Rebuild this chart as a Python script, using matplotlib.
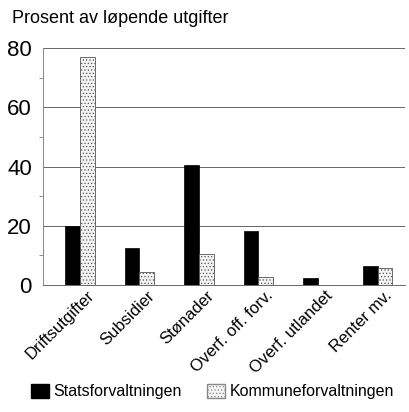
import numpy as np
import matplotlib.pyplot as plt
from matplotlib.patches import Patch

plt.rcParams['font.family'] = ['Liberation Sans', 'DejaVu Sans']
plt.rcParams['hatch.color'] = '#999999'
plt.rcParams['hatch.linewidth'] = 0.5

categories = ["Driftsutgifter", "Subsidier", "Stønader", "Overf. off. forv.",
              "Overf. utlandet", "Renter mv."]
stat = [19.8, 12.5, 40.4, 18.1, 2.4, 6.5]
kommune = [76.9, 4.3, 10.5, 2.6, 0.1, 5.9]
series_names = ["Statsforvaltningen", "Kommuneforvaltningen"]

fig = plt.figure(figsize=(4.09, 4.12), dpi=100)
ax = fig.add_axes([0.105, 0.308, 0.885, 0.5755])

x = np.arange(len(categories))
w = 0.25
ax.bar(x - w / 2, stat, w, color='black', edgecolor='black', linewidth=0.5, zorder=3)
ax.bar(x + w / 2, kommune, w, color='#f4f4f4', edgecolor='#555555', linewidth=0.6,
       hatch='.....', zorder=3)

ax.set_xlim(-0.62, 5.46)
ax.set_ylim(0, 80)
ax.set_yticks([0, 20, 40, 60, 80])
ax.set_yticks([10, 30, 50, 70], minor=True)
ax.yaxis.grid(True, color='#666666', linewidth=0.7, zorder=0)
ax.tick_params(axis='y', which='major', length=0, labelsize=16, pad=8)
ax.tick_params(axis='y', which='minor', length=3, width=0.6, color='#777777')
ax.tick_params(axis='x', length=0, pad=2)
ax.set_xticks(x + 0.12)
ax.set_xticklabels(categories, rotation=45, ha='right', rotation_mode='anchor', fontsize=12)

for s in ['top', 'right']:
    ax.spines[s].set_visible(False)
ax.spines['left'].set_color('#888888')
ax.spines['left'].set_linewidth(0.7)
ax.spines['bottom'].set_color('#666666')
ax.spines['bottom'].set_linewidth(0.7)

fig.text(0.03, 0.945, "Prosent av løpende utgifter", fontsize=13)

handles = [Patch(facecolor='black', edgecolor='black'),
           Patch(facecolor='#f4f4f4', edgecolor='#888888', hatch='.....')]
fig.legend(handles, series_names, loc='lower left', bbox_to_anchor=(0.045, 0.0),
           ncol=2, frameon=False, fontsize=11.5, handlelength=1.1, handleheight=1.0,
           handletextpad=0.3, columnspacing=1.6, borderaxespad=0.4)

fig.savefig("out.png", dpi=100)
